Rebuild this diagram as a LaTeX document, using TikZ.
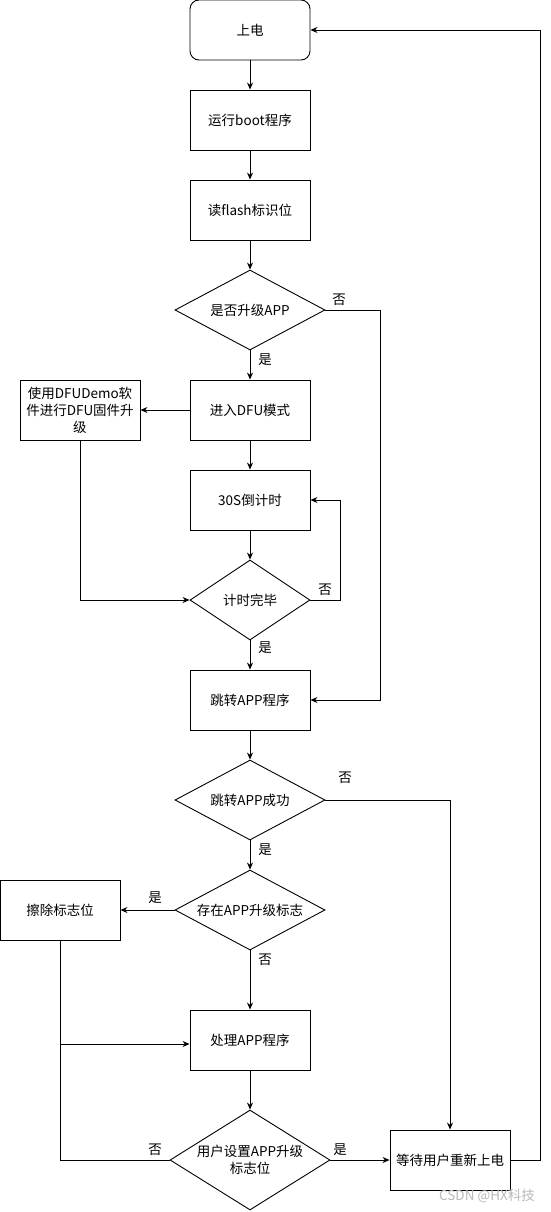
\documentclass[tikz,border=0pt]{standalone}
\usepackage{fontspec}
\setmainfont{Noto Sans CJK SC}
\usepackage{tikz}
\usetikzlibrary{shapes.geometric, arrows.meta, positioning, calc}

\begin{document}
\begin{tikzpicture}[x=1pt, y=-1pt, line width=0.9pt,
  font=\fontsize{13.5}{17}\selectfont,
  box/.style={draw, minimum width=120pt, minimum height=60pt, inner sep=0pt, align=center},
  startbox/.style={box, rounded corners=9pt},
  choice/.style={draw, diamond, minimum width=150pt, minimum height=80pt, inner sep=0pt},
  says/.style={label={[align=center]center:#1}},
  flow/.style={-{Stealth[length=7pt, width=6pt]}},
  lbl/.style={inner sep=0pt}]
  \useasboundingbox (0,0) rectangle (550,1212);

  % main column
  \node[startbox] (pwr) at (250,30) {上电};
  \node[box] (boot) at (250,120) {运行boot程序};
  \node[box] (flash) at (250,210) {读flash标识位};
  \node[choice, says=是否升级APP] (upg) at (250,310) {};
  \node[box] (dfu) at (250,410) {进入DFU模式};
  \node[box] (tool) at (80,410) {使用DFUDemo软\\件进行DFU固件升\\级};
  \node[box] (cnt) at (250,500) {30S倒计时};
  \node[choice, minimum width=120pt, says=计时完毕] (done) at (250,600) {};
  \node[box] (jump) at (250,700) {跳转APP程序};
  \node[choice, says=跳转APP成功] (ok) at (250,800) {};
  \node[choice, says=存在APP升级标志] (has) at (250,910) {};
  \node[box] (erase) at (60,910) {擦除标志位};
  \node[box] (proc) at (250,1040) {处理APP程序};
  \node[choice, minimum width=160pt, minimum height=100pt,
        says={用户设置APP升级\\标志位}] (setf) at (250,1160) {};
  \node[box] (wait) at (450,1160) {等待用户重新上电};

  % connectors
  \draw[flow] (pwr) -- (boot);
  \draw[flow] (boot) -- (flash);
  \draw[flow] (flash) -- (upg);
  \draw[flow] (upg) -- (dfu);
  \draw[flow] (upg.east) -- ++(55,0) |- (jump);
  \draw[flow] (dfu) -- (tool);
  \draw[flow] (dfu) -- (cnt);
  \draw[flow] (cnt) -- (done);
  \draw[flow] (done.east) -- ++(30,0) |- (cnt);
  \draw[flow] (tool) |- (done);
  \draw[flow] (done) -- (jump);
  \draw[flow] (jump) -- (ok);
  \draw[flow] (ok.east) -| (wait);
  \draw[flow] (ok) -- (has);
  \draw[flow] (has) -- (erase);
  \draw[flow] (has) -- (proc);
  \draw[flow] (proc) -- (setf);
  \draw (setf.west) -| (erase.south);
  \coordinate (mrg) at (60,1044);
  \draw[flow] (mrg) -- (mrg -| proc.west);
  \draw[flow] (setf) -- (wait);
  \draw[flow] (wait.east) -- ++(30,0) |- (pwr);

  % branch labels
  \node[lbl] (n1) at (339,300) {否};
  \node[lbl] (y1) at (265,360) {是};
  \node[lbl] (n2) at (325,590) {否};
  \node[lbl] (y2) at (265,648) {是};
  \node[lbl] (n3) at (345,778) {否};
  \node[lbl] (y3) at (265,850) {是};
  \node[lbl] (y4) at (155,898) {是};
  \node[lbl] (n4) at (265,960) {否};
  \node[lbl] (n5) at (155,1150) {否};
  \node[lbl] (y5) at (340,1150) {是};

  \node[lbl, text=gray!55] (mark) at (487,1196) {CSDN @HX科技};
\end{tikzpicture}
\end{document}
